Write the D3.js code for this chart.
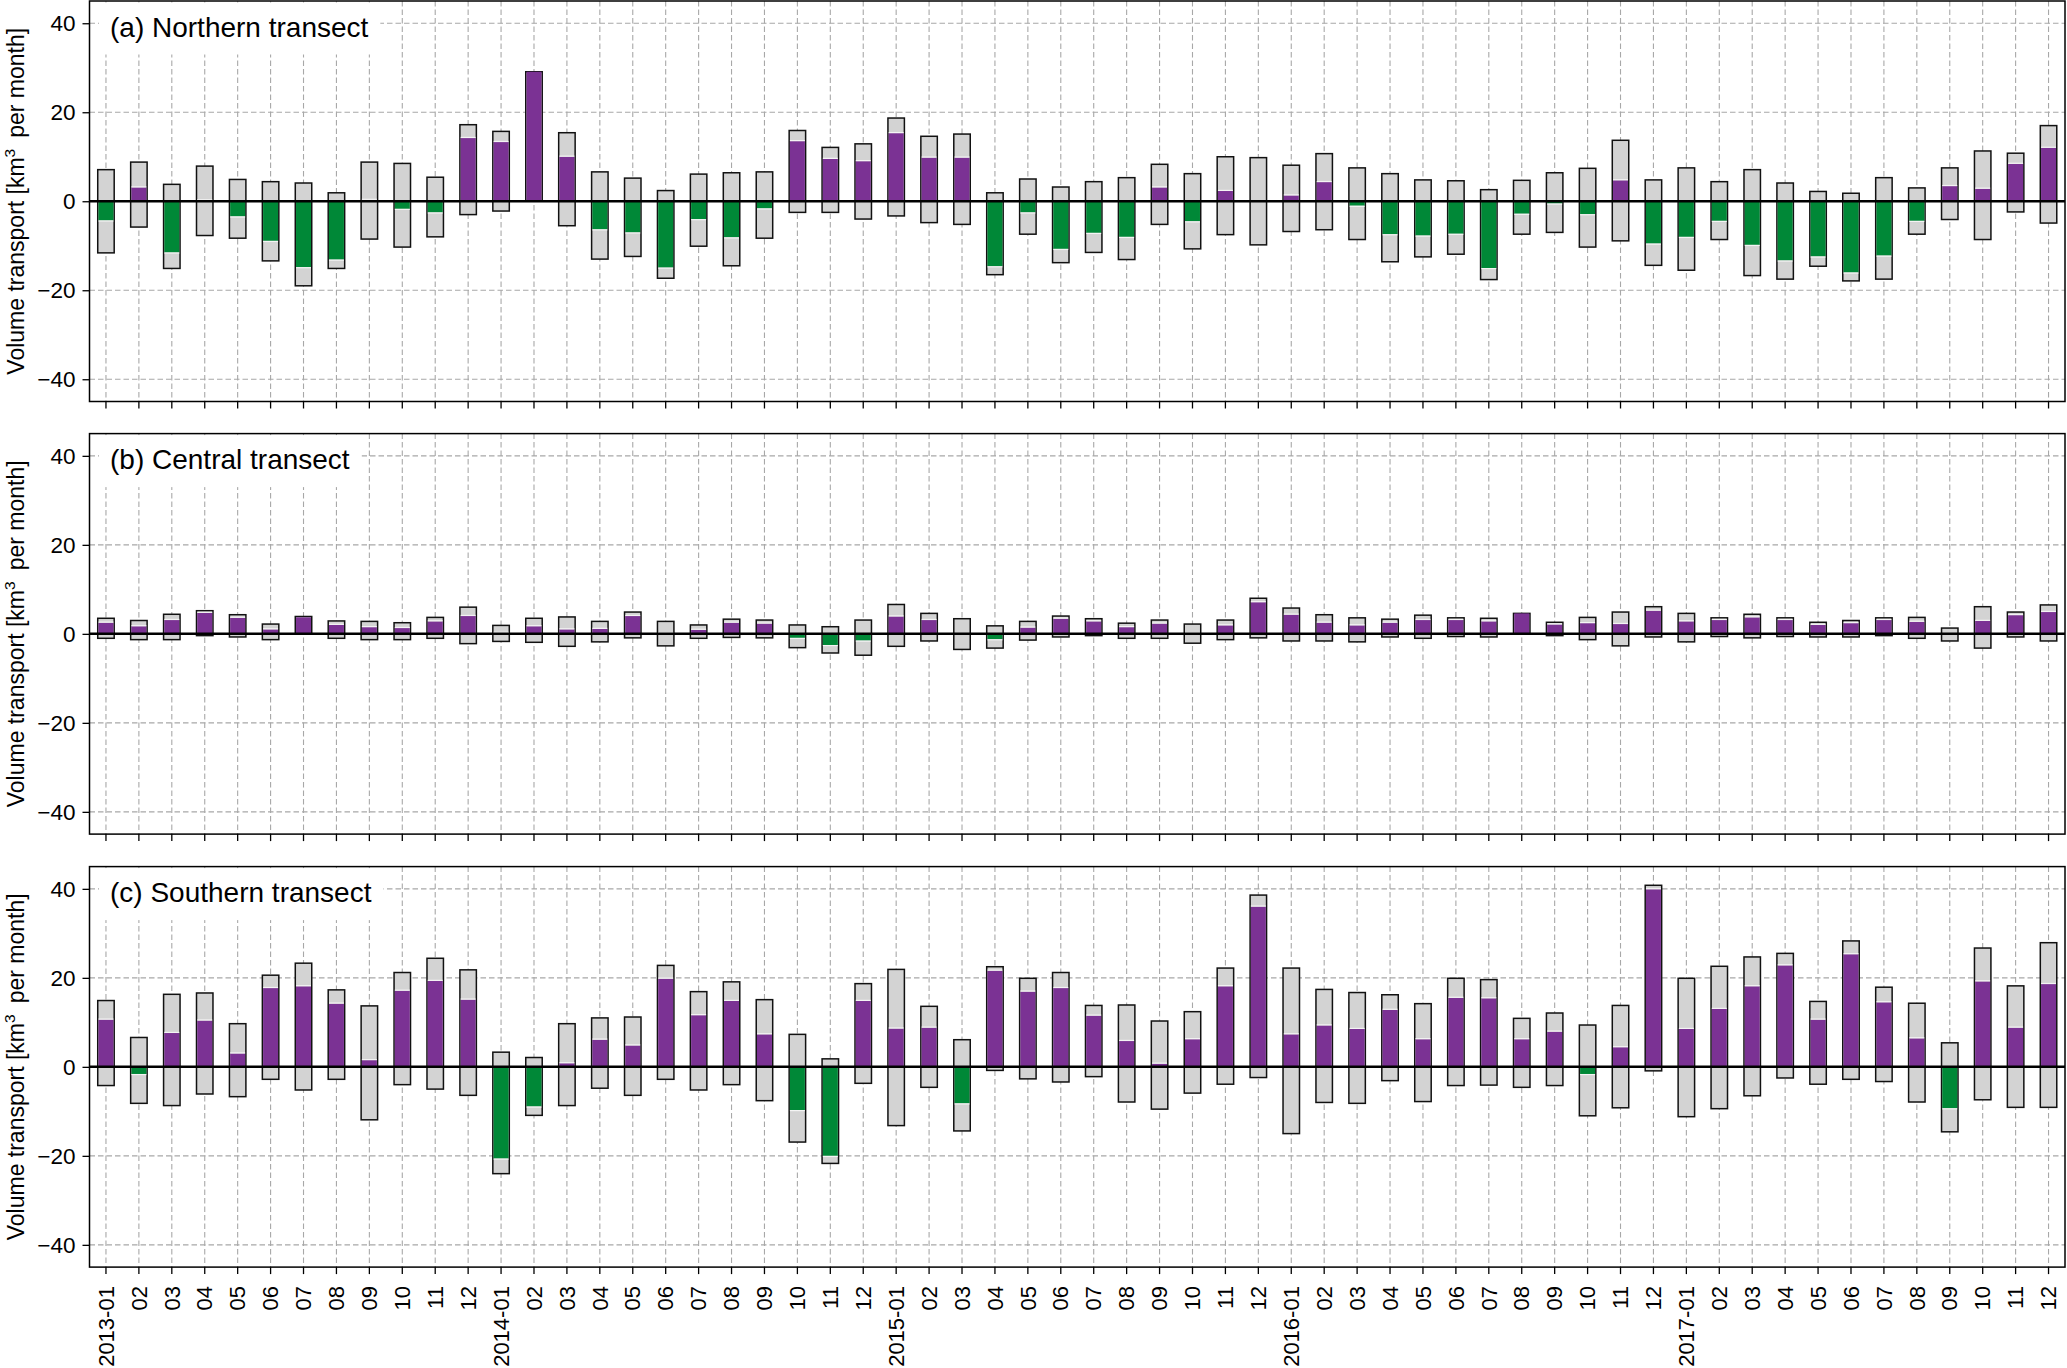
<!DOCTYPE html>
<html>
<head>
<meta charset="utf-8">
<script src="https://cdn.jsdelivr.net/npm/d3@7"></script>
<style>
  html, body { margin: 0; padding: 0; background: #fff; }
  svg { display: block; font-family: "Liberation Sans", Arial, Helvetica, sans-serif; }
</style>
</head>
<body>
<svg id="chart" width="2067" height="1368"></svg>
<script>
// ---------- DATA (km^3 per month) ----------
const monthLabels = [
  "2013-01","02","03","04","05","06","07","08","09","10","11","12",
  "2014-01","02","03","04","05","06","07","08","09","10","11","12",
  "2015-01","02","03","04","05","06","07","08","09","10","11","12",
  "2016-01","02","03","04","05","06","07","08","09","10","11","12",
  "2017-01","02","03","04","05","06","07","08","09","10","11","12"
];
const yTicks = [-40, -20, 0, 20, 40];
const panelTitles = ["(a) Northern transect", "(b) Central transect", "(c) Southern transect"];

// Northern transect
const northPos = [7.1,8.8,3.8,7.9,4.9,4.4,4.1,1.9,8.8,8.5,5.4,17.2,
  15.7,29.1,15.4,6.6,5.2,2.4,6.1,6.4,6.6,15.9,12.1,12.9,
  18.7,14.6,15.1,1.9,5.0,3.2,4.4,5.3,8.3,6.2,10.0,9.8,
  8.1,10.7,7.5,6.2,4.8,4.6,2.6,4.7,6.4,7.4,13.7,4.8,
  7.5,4.4,7.1,4.1,2.2,1.8,5.3,3.0,7.5,11.3,10.8,17.0];
const northNeg = [-11.6,-5.8,-15.1,-7.7,-8.3,-13.4,-19.0,-15.1,-8.5,-10.3,-8.0,-3.0,
  -2.2,0,-5.5,-13.0,-12.4,-17.3,-10.1,-14.5,-8.3,-2.5,-2.5,-4.0,
  -3.3,-4.8,-5.2,-16.5,-7.4,-13.8,-11.5,-13.1,-5.2,-10.7,-7.5,-9.8,
  -6.8,-6.4,-8.6,-13.6,-12.5,-11.9,-17.6,-7.4,-7.0,-10.3,-8.9,-14.4,
  -15.5,-8.6,-16.7,-17.5,-14.6,-17.9,-17.5,-7.4,-4.1,-8.6,-2.4,-4.9];
const northNet = [-4.3,3.1,-11.5,0.2,-3.4,-8.9,-14.8,-13.1,0.3,-1.7,-2.5,14.2,
  13.3,29.1,10.0,-6.3,-7.0,-14.9,-4.0,-8.1,-1.6,13.5,9.5,9.0,
  15.3,9.8,9.8,-14.6,-2.5,-10.7,-7.1,-8.0,3.1,-4.5,2.3,0.0,
  1.3,4.3,-1.0,-7.4,-7.7,-7.3,-15.0,-2.8,-0.5,-2.9,4.7,-9.5,
  -8.0,-4.4,-9.8,-13.3,-12.4,-16.0,-12.2,-4.4,3.4,2.8,8.4,12.0];

// Central transect
const centralPos = [3.5,3.0,4.4,5.2,4.3,2.2,3.9,2.9,2.8,2.5,3.7,6.0,
  1.9,3.5,3.8,2.8,4.9,2.8,2.0,3.3,3.1,2.0,1.6,3.1,
  6.6,4.6,3.4,1.8,2.8,4.0,3.4,2.4,3.1,2.2,3.1,8.0,
  5.8,4.3,3.6,3.3,4.2,3.6,3.5,4.6,2.6,3.7,4.9,6.1,
  4.6,3.6,4.4,3.6,2.6,3.0,3.6,3.7,1.3,6.1,4.9,6.5];
const centralNeg = [-1.0,-1.3,-1.3,-0.4,-0.7,-1.3,0,-1.0,-1.3,-1.3,-1.0,-2.2,
  -1.7,-1.9,-2.8,-1.8,-0.9,-2.7,-1.0,-0.8,-0.9,-3.1,-4.3,-4.8,
  -2.8,-1.6,-3.5,-3.2,-1.4,-0.7,-0.4,-1.0,-1.0,-2.1,-1.3,-0.9,
  -1.6,-1.6,-1.8,-0.7,-1.0,-0.6,-0.7,0,-0.4,-1.3,-2.7,-0.7,
  -1.8,-0.6,-0.9,-0.6,-0.7,-0.7,-0.4,-1.0,-1.6,-3.2,-0.7,-1.6];
const centralNet = [2.5,1.7,3.1,4.7,3.6,1.0,3.7,2.0,1.5,1.3,2.8,4.0,
  0.2,1.7,1.0,1.1,4.0,0.1,0.9,2.5,2.3,-0.9,-2.5,-1.5,
  3.9,3.1,0.0,-1.2,1.4,3.4,2.8,1.5,2.3,0.1,1.9,7.1,
  4.3,2.5,1.9,2.5,3.1,3.1,2.8,4.6,2.1,2.4,2.2,5.2,
  2.8,3.1,3.7,3.1,2.0,2.4,3.1,2.7,0.0,2.9,4.2,4.9];

// Southern transect
const southPos = [14.9,6.6,16.3,16.6,9.7,20.6,23.3,17.3,13.7,21.2,24.4,21.8,
  3.3,2.1,9.7,11.0,11.2,22.8,16.9,19.1,15.1,7.3,1.8,18.7,
  21.9,13.6,6.1,22.5,19.9,21.2,13.8,13.9,10.3,12.4,22.2,38.6,
  22.2,17.4,16.7,16.2,14.2,19.9,19.6,10.9,12.1,9.4,13.8,40.8,
  19.9,22.6,24.7,25.5,14.7,28.3,17.9,14.3,5.4,26.7,18.2,27.9];
const southNeg = [-4.2,-8.2,-8.7,-6.1,-6.7,-2.8,-5.2,-2.8,-11.9,-4.0,-5.0,-6.4,
  -24.0,-10.9,-8.7,-4.8,-6.4,-2.8,-5.2,-4.0,-7.6,-16.9,-21.7,-3.7,
  -13.2,-4.6,-14.4,-0.8,-2.7,-3.4,-2.2,-7.9,-9.5,-5.9,-3.9,-2.4,
  -15.0,-8.0,-8.2,-3.1,-7.8,-4.2,-4.1,-4.6,-4.2,-11.0,-9.2,-0.9,
  -11.2,-9.4,-6.5,-2.5,-3.9,-2.8,-3.3,-7.9,-14.6,-7.4,-9.1,-9.1];
const southNet = [10.6,-1.6,7.6,10.4,3.0,17.7,18.1,14.2,1.5,17.1,19.3,15.1,
  -20.6,-8.9,0.8,6.1,4.8,19.8,11.6,14.8,7.3,-9.7,-20.0,14.8,
  8.6,8.8,-8.2,21.6,16.9,17.7,11.5,5.8,0.7,6.2,18.1,36.0,
  7.3,9.3,8.5,12.8,6.2,15.5,15.4,6.2,7.9,-1.6,4.4,39.9,
  8.5,13.0,18.1,22.8,10.6,25.3,14.5,6.4,-9.3,19.2,8.8,18.6];

const panels = [
  {title: panelTitles[0], pos: northPos, neg: northNeg, net: northNet},
  {title: panelTitles[1], pos: centralPos, neg: centralNeg, net: centralNet},
  {title: panelTitles[2], pos: southPos, neg: southNeg, net: southNet}
];

// ---------- LAYOUT ----------
const svg = d3.select("#chart");
const left = 89.5, right = 2065;
const panelTops = [1, 433.6, 866.6];
const panelH = 400.5;
const purple = "#7b3294", green = "#008837", gray = "#d3d3d3";
const gridColor = "#a8a8a8";

const x = d3.scaleBand().domain(d3.range(monthLabels.length)).range([left, right]).paddingInner(0).paddingOuter(0);
const bw = x.bandwidth();
const barW = bw * 0.5;
const cx = i => x(i) + bw / 2;

panels.forEach((p, pi) => {
  const top = panelTops[pi];
  const bottom = top + panelH;
  const y = d3.scaleLinear().domain([-45, 45]).range([bottom, top]);
  const g = svg.append("g");

  // grid
  const grid = g.append("g").attr("stroke", gridColor).attr("stroke-width", 1.1).attr("stroke-dasharray", "5.5,3");
  grid.selectAll("line.v").data(d3.range(monthLabels.length)).join("line")
    .attr("x1", d => cx(d)).attr("x2", d => cx(d)).attr("y1", top).attr("y2", bottom);
  grid.selectAll("line.h").data(yTicks).join("line")
    .attr("x1", left).attr("x2", right).attr("y1", d => y(d)).attr("y2", d => y(d));

  // title box + text
  const title = g.append("text").attr("x", 110).attr("y", top + 35.5)
    .attr("font-size", 28).attr("fill", "#000").text(p.title);
  const tw = title.node().getComputedTextLength();
  g.insert("rect", "text").attr("x", 99).attr("y", top + 1.5).attr("width", tw + 23).attr("height", 52).attr("fill", "#fff");

  // gray bars
  const idx = d3.range(monthLabels.length);
  const bars = g.append("g");
  bars.selectAll("rect.pos").data(idx.filter(i => p.pos[i] > 0)).join("rect")
    .attr("x", i => cx(i) - barW / 2).attr("width", barW)
    .attr("y", i => y(p.pos[i])).attr("height", i => y(0) - y(p.pos[i]))
    .attr("fill", gray).attr("stroke", "#111").attr("stroke-width", 1.5);
  bars.selectAll("rect.neg").data(idx.filter(i => p.neg[i] < 0)).join("rect")
    .attr("x", i => cx(i) - barW / 2).attr("width", barW)
    .attr("y", y(0)).attr("height", i => y(p.neg[i]) - y(0))
    .attr("fill", gray).attr("stroke", "#111").attr("stroke-width", 1.5);
  // net bars
  bars.selectAll("rect.net").data(idx.filter(i => p.net[i] !== 0)).join("rect")
    .attr("x", i => cx(i) - barW / 2 + 0.75).attr("width", barW - 1.5)
    .attr("y", i => Math.min(y(p.net[i]), y(0)))
    .attr("height", i => Math.abs(y(p.net[i]) - y(0)))
    .attr("fill", i => p.net[i] > 0 ? purple : green);
  // light separator where gray continues beyond net
  bars.selectAll("line.sep").data(idx.filter(i => p.net[i] !== 0 &&
      ((p.net[i] > 0 && p.pos[i] - p.net[i] > 0.4) || (p.net[i] < 0 && p.net[i] - p.neg[i] > 0.4)))).join("line")
    .attr("x1", i => cx(i) - barW / 2 + 0.75).attr("x2", i => cx(i) + barW / 2 - 0.75)
    .attr("y1", i => y(p.net[i]) + (p.net[i] > 0 ? -0.6 : 0.6))
    .attr("y2", i => y(p.net[i]) + (p.net[i] > 0 ? -0.6 : 0.6))
    .attr("stroke", "#f4f4f4").attr("stroke-width", 1.2);

  // zero line
  g.append("line").attr("x1", left).attr("x2", right).attr("y1", y(0)).attr("y2", y(0))
    .attr("stroke", "#000").attr("stroke-width", 2.5);

  // frame
  g.append("rect").attr("x", left).attr("y", top).attr("width", right - left).attr("height", panelH)
    .attr("fill", "none").attr("stroke", "#000").attr("stroke-width", 1.5);

  // y axis
  const ya = g.append("g").attr("transform", `translate(${left},0)`)
    .call(d3.axisLeft(y).tickValues(yTicks).tickSize(7).tickPadding(7).tickFormat(d3.format("d")));
  ya.select(".domain").remove();
  ya.selectAll("line").attr("stroke", "#000").attr("stroke-width", 1.3);
  ya.selectAll("text").attr("font-size", 22.5).attr("fill", "#000")
    .attr("font-family", "'Liberation Sans', Arial, sans-serif");

  // x axis
  const xa = g.append("g").attr("transform", `translate(0,${bottom})`)
    .call(d3.axisBottom(x).tickSize(7).tickFormat(i => pi === 2 ? monthLabels[i] : ""));
  xa.select(".domain").remove();
  xa.selectAll("line").attr("stroke", "#000").attr("stroke-width", 1.3);
  if (pi === 2) {
    xa.selectAll("text")
      .attr("transform", "rotate(-90)")
      .attr("text-anchor", "end")
      .attr("x", -19).attr("y", 0).attr("dy", "0.35em")
      .attr("font-size", 22).attr("fill", "#000")
      .attr("font-family", "'Liberation Sans', Arial, sans-serif");
  } else {
    xa.selectAll("text").remove();
  }

  // y label
  const yl = g.append("text")
    .attr("transform", `translate(24,${top + panelH / 2}) rotate(-90)`)
    .attr("text-anchor", "middle").attr("font-size", 23).attr("fill", "#000");
  yl.append("tspan").text("Volume transport [km");
  yl.append("tspan").attr("font-size", 15.5).attr("dy", -9).text("3");
  yl.append("tspan").attr("dy", 9).text("\u2009 per month]");
});
</script>
</body>
</html>
